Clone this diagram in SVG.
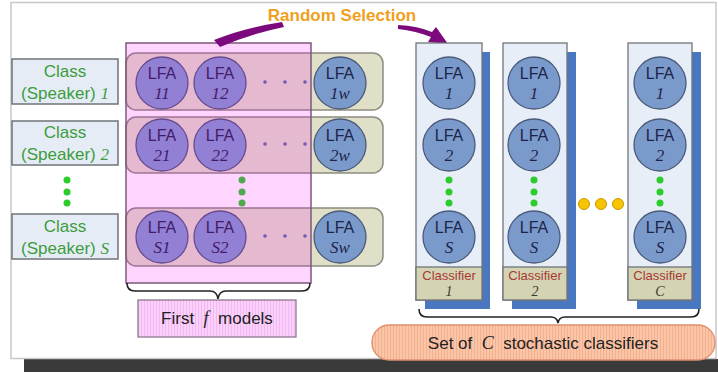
<svg xmlns="http://www.w3.org/2000/svg" width="718" height="374" viewBox="0 0 718 374">
<defs>
<pattern id="pstripe" width="3" height="10" patternUnits="userSpaceOnUse">
<rect width="3" height="10" fill="#fbd0fb"/>
<rect width="1" height="10" fill="#f2b8f2"/>
</pattern>
<pattern id="ostripe" width="3" height="10" patternUnits="userSpaceOnUse">
<rect width="3" height="10" fill="#fbc6a8"/>
<rect width="1" height="10" fill="#f2b090"/>
</pattern>
</defs>
<style>
.cls{fill:#e6ecf6;stroke:#6f7478;stroke-width:1.5}
.ct{font-family:"Liberation Sans",Arial,sans-serif;font-size:17px;fill:#3c9c3c;text-anchor:middle}
.ci{font-family:"Liberation Serif","Times New Roman",serif;font-style:italic}
.row{fill:#e0e0c8;stroke:#8c8c80;stroke-width:1.5}
.c{fill:#7b9acc;stroke:#4a5a78;stroke-width:1.3}
.lt{font-family:"Liberation Sans",Arial,sans-serif;font-size:16px;fill:#1c2448;text-anchor:middle}
.ln{font-family:"Liberation Serif","Times New Roman",serif;font-style:italic;font-size:17px;fill:#1c2448;text-anchor:middle}
.gd{fill:#2ccc2c}
.bd{fill:#5a6aa8}
.col{fill:#e8eef8;stroke:#707478;stroke-width:1.3}
.sh{fill:#4a78c0}
.lab{fill:#d4d4b4;stroke:#707478;stroke-width:1.3}
.kt{font-family:"Liberation Sans",Arial,sans-serif;font-size:13px;fill:#a83a30;text-anchor:middle}
.kn{font-family:"Liberation Serif","Times New Roman",serif;font-style:italic;font-size:14px;fill:#3a3a2a;text-anchor:middle}
.od{fill:#f6c400;stroke:#c89a00;stroke-width:1}
.br{fill:none;stroke:#222;stroke-width:1.6}
.bt{font-family:"Liberation Sans",Arial,sans-serif;font-size:17px;fill:#222;text-anchor:middle;white-space:pre}
</style>
<rect x="24" y="359" width="694" height="13" fill="#3a3a3a"/>
<rect x="11" y="2.5" width="705" height="356" fill="#ffffff" stroke="#c8c8c8" stroke-width="1.5"/>

<g id="class1"><rect class="cls" x="12" y="59" width="106" height="45"/><text class="ct" x="65" y="77">Class</text><text class="ct" x="65" y="99">(Speaker) <tspan class="ci">1</tspan></text></g>
<g id="class2"><rect class="cls" x="12" y="121" width="106" height="44"/><text class="ct" x="65" y="138">Class</text><text class="ct" x="65" y="160">(Speaker) <tspan class="ci">2</tspan></text></g>
<g id="classS"><rect class="cls" x="12" y="214" width="106" height="45"/><text class="ct" x="65" y="232">Class</text><text class="ct" x="65" y="254">(Speaker) <tspan class="ci">S</tspan></text></g>
<g id="leftdots"><circle class="gd" cx="67" cy="180" r="3.5"/><circle class="gd" cx="67" cy="192" r="3.5"/><circle class="gd" cx="67" cy="203" r="3.5"/></g>

<g id="row1"><rect class="row" x="126" y="53" width="257" height="57" rx="10"/>
<circle class="c" cx="162" cy="83" r="26"/><text class="lt" x="162" y="79">LFA</text><text class="ln" x="162" y="99">11</text>
<circle class="c" cx="220" cy="83" r="26"/><text class="lt" x="220" y="79">LFA</text><text class="ln" x="220" y="99">12</text>
<circle class="bd" cx="265" cy="82" r="1.8"/><circle class="bd" cx="285" cy="82" r="1.8"/><circle class="bd" cx="305" cy="82" r="1.8"/>
<circle class="c" cx="340" cy="83" r="26"/><text class="lt" x="340" y="79">LFA</text><text class="ln" x="340" y="99">1w</text></g>
<g id="row2"><rect class="row" x="126" y="117" width="257" height="56" rx="10"/>
<circle class="c" cx="162" cy="145" r="26"/><text class="lt" x="162" y="141">LFA</text><text class="ln" x="162" y="161">21</text>
<circle class="c" cx="220" cy="145" r="26"/><text class="lt" x="220" y="141">LFA</text><text class="ln" x="220" y="161">22</text>
<circle class="bd" cx="265" cy="144" r="1.8"/><circle class="bd" cx="285" cy="144" r="1.8"/><circle class="bd" cx="305" cy="144" r="1.8"/>
<circle class="c" cx="340" cy="145" r="26"/><text class="lt" x="340" y="141">LFA</text><text class="ln" x="340" y="161">2w</text></g>
<g id="midots"><circle class="gd" cx="242" cy="180" r="3.5"/><circle class="gd" cx="242" cy="192" r="3.5"/><circle class="gd" cx="242" cy="203" r="3.5"/></g>
<g id="rowS"><rect class="row" x="126" y="208" width="257" height="58" rx="10"/>
<circle class="c" cx="162" cy="237" r="26"/><text class="lt" x="162" y="233">LFA</text><text class="ln" x="162" y="253">S1</text>
<circle class="c" cx="220" cy="237" r="26"/><text class="lt" x="220" y="233">LFA</text><text class="ln" x="220" y="253">S2</text>
<circle class="bd" cx="265" cy="236" r="1.8"/><circle class="bd" cx="285" cy="236" r="1.8"/><circle class="bd" cx="305" cy="236" r="1.8"/>
<circle class="c" cx="340" cy="237" r="26"/><text class="lt" x="340" y="233">LFA</text><text class="ln" x="340" y="253">Sw</text></g>

<g id="firstf"><rect x="126" y="43" width="185" height="240" fill="#ff00ff" fill-opacity="0.17" stroke="#7a5a7a" stroke-width="1.5"/></g>

<g id="connectors">
<path class="br" d="M127,283 Q127,291 135,291 L210,291 Q217,291 218,299 Q219,291 226,291 L302,291 Q310,291 310,283"/>
<path class="br" d="M419,309 Q419,317 427,317 L551,317 Q557,317 558,323 Q559,317 565,317 L691,317 Q699,317 699,309"/>
<path d="M214,40 Q244,28 282,22 L284,27 Q250,34 220,47 Z" fill="#7d0a7d"/>
<path d="M398,25 Q418,26 432,32 L436,27 L448,44 L428,42 L431,37 Q416,31 398,29 Z" fill="#7d0a7d"/>
</g>
<g id="firstfLabel"><rect x="138" y="300" width="158" height="37" fill="url(#pstripe)" stroke="#8a7a8a" stroke-width="1.3"/><text class="bt" x="217" y="324" xml:space="preserve">First  <tspan class="ci" font-size="18">f</tspan>  models</text></g>

<text x="342" y="21" font-family="Liberation Sans,Arial,sans-serif" font-size="17" font-weight="bold" fill="#f0a020" text-anchor="middle">Random Selection</text>

<g id="classifier1"><rect class="sh" x="425" y="52" width="65" height="257"/><rect class="col" x="416" y="43" width="66" height="257"/>
<circle class="c" cx="449" cy="83" r="26"/><text class="lt" x="449" y="79">LFA</text><text class="ln" x="449" y="99">1</text>
<circle class="c" cx="449" cy="145" r="26"/><text class="lt" x="449" y="141">LFA</text><text class="ln" x="449" y="161">2</text>
<circle class="gd" cx="449" cy="180" r="3.5"/><circle class="gd" cx="449" cy="192" r="3.5"/><circle class="gd" cx="449" cy="203" r="3.5"/>
<circle class="c" cx="449" cy="237" r="26"/><text class="lt" x="449" y="233">LFA</text><text class="ln" x="449" y="253">S</text>
<rect class="lab" x="416" y="267" width="66" height="33"/><text class="kt" x="449" y="280">Classifier</text><text class="kn" x="449" y="296">1</text></g>
<g id="classifier2"><rect class="sh" x="512" y="52" width="64" height="257"/><rect class="col" x="503" y="43" width="64" height="257"/>
<circle class="c" cx="534" cy="83" r="26"/><text class="lt" x="534" y="79">LFA</text><text class="ln" x="534" y="99">1</text>
<circle class="c" cx="534" cy="145" r="26"/><text class="lt" x="534" y="141">LFA</text><text class="ln" x="534" y="161">2</text>
<circle class="gd" cx="534" cy="180" r="3.5"/><circle class="gd" cx="534" cy="192" r="3.5"/><circle class="gd" cx="534" cy="203" r="3.5"/>
<circle class="c" cx="534" cy="237" r="26"/><text class="lt" x="534" y="233">LFA</text><text class="ln" x="534" y="253">S</text>
<rect class="lab" x="503" y="267" width="64" height="33"/><text class="kt" x="535" y="280">Classifier</text><text class="kn" x="535" y="296">2</text></g>
<g id="orangedots"><circle class="od" cx="584" cy="204" r="5.5"/><circle class="od" cx="601" cy="204" r="5.5"/><circle class="od" cx="618" cy="204" r="5.5"/></g>
<g id="classifierC"><rect class="sh" x="637" y="52" width="64" height="257"/><rect class="col" x="628" y="43" width="64" height="257"/>
<circle class="c" cx="660" cy="83" r="26"/><text class="lt" x="660" y="79">LFA</text><text class="ln" x="660" y="99">1</text>
<circle class="c" cx="660" cy="145" r="26"/><text class="lt" x="660" y="141">LFA</text><text class="ln" x="660" y="161">2</text>
<circle class="gd" cx="660" cy="180" r="3.5"/><circle class="gd" cx="660" cy="192" r="3.5"/><circle class="gd" cx="660" cy="203" r="3.5"/>
<circle class="c" cx="660" cy="237" r="26"/><text class="lt" x="660" y="233">LFA</text><text class="ln" x="660" y="253">S</text>
<rect class="lab" x="628" y="267" width="64" height="33"/><text class="kt" x="660" y="280">Classifier</text><text class="kn" x="660" y="296">C</text></g>

<g id="setC"><rect x="372" y="325" width="343" height="35" rx="17" fill="url(#ostripe)" stroke="#e09070" stroke-width="1.3"/><text class="bt" x="543" y="349" xml:space="preserve">Set of  <tspan class="ci" font-size="18">C</tspan>  stochastic classifiers</text></g>
</svg>
